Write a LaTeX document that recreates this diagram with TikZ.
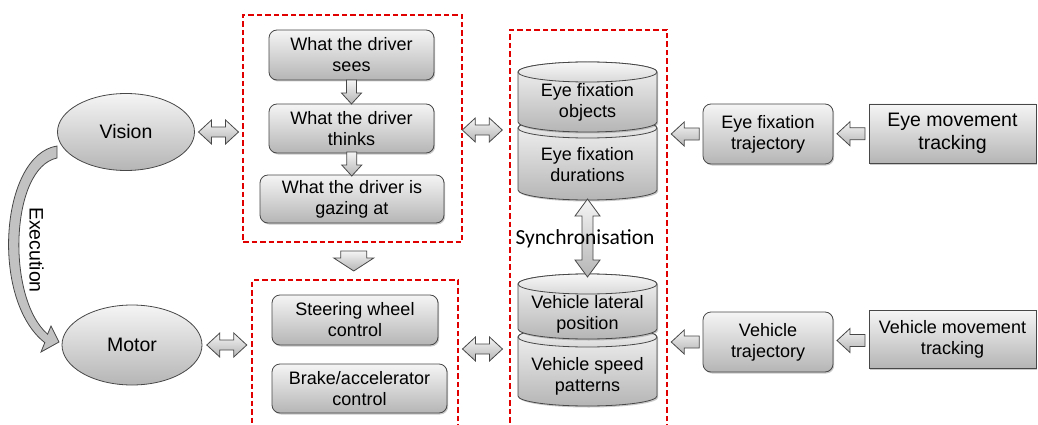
\documentclass[tikz,border=0pt]{standalone}
\usepackage{fontspec}
\setmainfont{Liberation Sans}
\newfontfamily\synfont{Carlito}
\usetikzlibrary{shapes.geometric,shadows,calc}

\tikzset{
  grad/.style={top color=gray!8, bottom color=gray!58},
  outline/.style={draw=black!72, line width=0.8pt},
  boxfont/.style={font=\fontsize{18}{21}\selectfont},
  bigfont/.style={font=\fontsize{19.5}{23}\selectfont},
  softshadow/.style={drop shadow={shadow xshift=1.2pt, shadow yshift=-1.5pt, opacity=0.35, fill=black!60}},
  rbox/.style={grad, outline, softshadow, rounded corners=8pt, align=center, inner sep=0pt, boxfont},
  sbox/.style={rbox, rounded corners=0pt, bigfont},
  oval/.style={ellipse, grad, outline, inner sep=0pt, bigfont},
  redbox/.style={draw=red!88!black, line width=1.7pt, dash pattern=on 5.5pt off 3pt, inner sep=0pt},
  blk/.style={grad, outline, line join=miter},
  cyltext/.style={align=center, inner sep=0pt, boxfont},
  % block arrows, drawn around their centre
  pics/leftarrow/.style={code={
    \path[blk] (-14,0) -- (-1,-12) -- (-1,-6) -- (14,-6) -- (14,6) -- (-1,6) -- (-1,12) -- cycle;}},
  pics/downarrow/.style={code={
    \path[blk] (0,12) -- (-10,1) -- (-5,1) -- (-5,-12) -- (5,-12) -- (5,1) -- (10,1) -- cycle;}},
  pics/bigdown/.style={code={
    \path[blk] (0,10) -- (-20,-3) -- (-13,-3) -- (-13,-10) -- (13,-10) -- (13,-3) -- (20,-3) -- cycle;}},
  pics/hdouble/.style={code={
    \path[blk] (-20,0) -- (-7,-12) -- (-7,-5) -- (7,-5) -- (7,-12) -- (20,0)
      -- (7,12) -- (7,5) -- (-7,5) -- (-7,12) -- cycle;}},
  pics/vdouble/.style={code={
    \path[blk] (0,-39) -- (12.5,-22) -- (5.5,-22) -- (5.5,22) -- (12.5,22) -- (0,39)
      -- (-12.5,22) -- (-5.5,22) -- (-5.5,-22) -- (-12.5,-22) -- cycle;}},
  % stacked data store
  pics/drum/.style={code={
    \path[grad, outline, softshadow]
      (-69.5,0) -- (-69.5,#1)
      arc[start angle=180, end angle=0, x radius=69.5, y radius=10]
      -- (69.5,0)
      arc[start angle=0, end angle=-180, x radius=69.5, y radius=10] -- cycle;
    \path[top color=gray!6, bottom color=gray!30, outline]
      (0,0) ellipse [x radius=69.5, y radius=10];
  }},
}

\begin{document}
\begin{tikzpicture}[x=1pt, y=-1pt]
\useasboundingbox (0,0) rectangle (1038,425);
\clip (0,0) rectangle (1038,425);

% perception / action ovals
\node[oval, minimum width=137pt, minimum height=77pt] (vision) at (126,132) {Vision};
\node[oval, minimum width=140pt, minimum height=80pt] (motor) at (132,345) {Motor};

% curved "Execution" arrow from Vision down to Motor
\path[fill=gray!48, outline]
  (57,146) .. controls (0,155) and (-10,300) .. (44.8,342.6)
  -- (41,352) -- (59,342) -- (51,326) -- (47.6,334.2)
  .. controls (6,298) and (10,168) .. (57,158) -- cycle;
\node[rotate=-90, bigfont] (exec) at (36.5,250) {Execution};

% dashed groups
\node[redbox, minimum width=219pt, minimum height=227pt] (redA) at (352.5,128.5) {};
\node[redbox, minimum width=206pt, minimum height=156pt] (redB) at (355,358) {};
\node[redbox, minimum width=157pt, minimum height=404pt] (redC) at (588.5,232) {};

% cognition chain
\node[rbox, minimum width=165pt, minimum height=50pt] (sees) at (351.5,55) {What the driver\\sees};
\node[rbox, minimum width=165pt, minimum height=49pt] (thinks) at (351.5,128.5) {What the driver\\thinks};
\node[rbox, minimum width=184pt, minimum height=48pt] (gazing) at (352,199) {What the driver is\\gazing at};
\pic at ($(sees.south)!0.5!(thinks.north)$) {downarrow};
\pic at ($(thinks.south)!0.5!(gazing.north)$) {downarrow};

% controls
\node[rbox, minimum width=166pt, minimum height=50pt] (steer) at (355,320) {Steering wheel\\control};
\node[rbox, minimum width=175pt, minimum height=49pt] (brake) at (359.5,388.5) {Brake/accelerator\\control};
\pic at ($(redA.south)!0.5!(redB.north)$) {bigdown};

% data stores
\pic at (587.5,128) {drum=62};
\pic at (587.5,72) {drum=50};
\pic at (587.5,337) {drum=59};
\pic at (587.5,284) {drum=45};
\node[cyltext] (objects) at (587.5,102) {Eye fixation\\objects};
\node[cyltext] (durations) at (587.5,165) {Eye fixation\\durations};
\node[cyltext] (lateral) at (587.5,314) {Vehicle lateral\\position};
\node[cyltext] (speed) at (587.5,376) {Vehicle speed\\patterns};
\coordinate (durbot) at (587.5,200);
\coordinate (lattop) at (587.5,276);
\pic at ($(durbot)!0.5!(lattop)$) {vdouble};
\node[font=\synfont\fontsize{21.5}{24}\selectfont, inner sep=0pt] (synctext) at (585,239) {Synchronisation};

% links between the groups
\pic at ($(vision.east)!0.5!(vision.east -| redA.west)$) {hdouble};
\pic at ($(motor.east)!0.5!(motor.east -| redB.west)$) {hdouble};
\pic at ($(redA.east |- 0,130)!0.42!(redC.west |- 0,130)$) {hdouble};
\pic at ($(redB.east |- 0,349)!0.47!(redC.west |- 0,349)$) {hdouble};

% sensing pipelines
\node[rbox, minimum width=130pt, minimum height=60pt] (etraj) at (768,134) {Eye fixation\\trajectory};
\node[sbox, minimum width=167pt, minimum height=59pt] (etrack) at (952.5,133.5) {Eye movement\\tracking};
\node[rbox, minimum width=130pt, minimum height=60pt] (vtraj) at (768,342) {Vehicle\\trajectory};
\node[sbox, boxfont, minimum width=167pt, minimum height=58pt] (vtrack) at (952.5,339) {Vehicle movement\\tracking};

\pic at ($(redC.east |- etraj.west)!0.5!(etraj.west)$) {leftarrow};
\pic at ($(etraj.east)!0.5!(etrack.west)$) {leftarrow};
\pic at ($(redC.east |- vtraj.west)!0.5!(vtraj.west)$) {leftarrow};
\pic at ($(vtraj.east)!0.5!(vtrack.west)$) {leftarrow};
\end{tikzpicture}
\end{document}
